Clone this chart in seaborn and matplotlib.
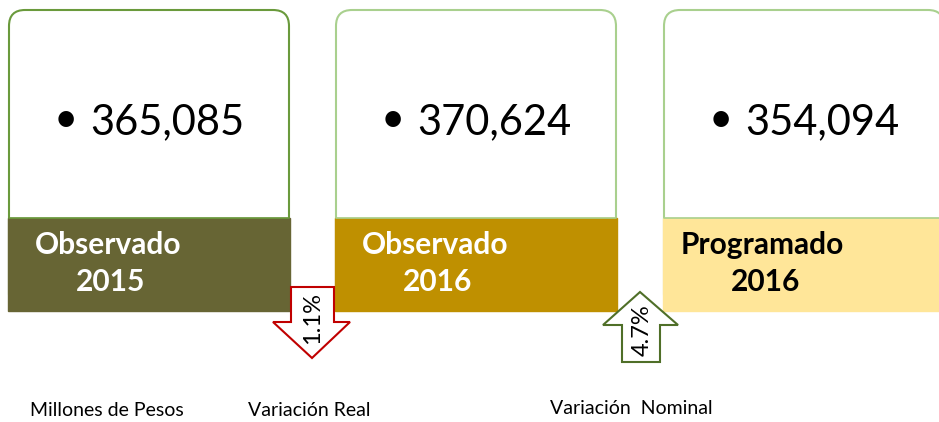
import matplotlib
matplotlib.use("Agg")
import matplotlib.pyplot as plt
from matplotlib.patches import FancyBboxPatch, Rectangle, Polygon
import seaborn as sns

# data
values = ["365,085", "370,624", "354,094"]
label_top = ["Observado", "Observado", "Programado"]
label_year = ["2015", "2016", "2016"]
band_colors = ["#676534", "#bf9000", "#ffe699"]
border_colors = ["#6a9a3c", "#a9d08e", "#a9d08e"]
label_colors = ["white", "white", "black"]
variations = ["1.1%", "4.7%"]
bottom_texts = ["Millones de Pesos", "Variación Real", "Variación  Nominal"]

sns.set_theme(style="white")
plt.rcParams['font.family'] = ['Lato', 'DejaVu Sans']

fig = plt.figure(figsize=(9.39, 4.22), dpi=100)
ax = fig.add_axes([0, 0, 1, 1])
ax.set_xlim(0, 939)
ax.set_ylim(422, 0)
ax.axis("off")

box_x = [9, 336, 664]
box_w = 280
label_x = [26, 26, 17]
year_x = [67, 67, 67]
for i in range(3):
    x0 = box_x[i]
    ax.add_patch(FancyBboxPatch((x0, 10), box_w, 300,
                                boxstyle="round,pad=0,rounding_size=16",
                                facecolor="white", edgecolor=border_colors[i], lw=1.5))
    ax.add_patch(Rectangle((x0 - 0.8, 218), box_w + 1.6, 92.8, facecolor=band_colors[i],
                           edgecolor=band_colors[i], lw=1.0))
    ax.plot([x0, x0 + box_w], [218, 218], color=border_colors[i], lw=1.2)
    ax.text(x0 + 57, 120, "•", fontsize=30, ha="center", va="center", color="black")
    ax.text(x0 + 81, 122, values[i], fontsize=30, ha="left", va="center", color="black")
    ax.text(x0 + label_x[i], 245, label_top[i], fontsize=21.5, fontweight="bold",
            ha="left", va="center", color=label_colors[i])
    ax.text(x0 + year_x[i], 282, label_year[i], fontsize=21.5, fontweight="bold",
            ha="left", va="center", color=label_colors[i])

# down arrow (real variation)
down = [(291, 287), (334, 287), (334, 322), (350, 322), (312, 358), (273, 322), (291, 322)]
ax.add_patch(Polygon(down, closed=True, facecolor="white", edgecolor="#c00000", lw=1.5))
ax.text(313, 318, variations[0], rotation=90, fontsize=17, ha="center", va="center", color="black")

# up arrow (nominal variation)
up = [(640, 292), (678, 325), (660, 325), (660, 362), (622, 362), (622, 325), (603, 325)]
ax.add_patch(Polygon(up, closed=True, facecolor="white", edgecolor="#4f6f28", lw=1.5))
ax.text(642, 330, variations[1], rotation=90, fontsize=17, ha="center", va="center", color="black")

ax.text(30, 411, bottom_texts[0], fontsize=14, ha="left", va="center", color="black")
ax.text(248, 411, bottom_texts[1], fontsize=14, ha="left", va="center", color="black")
ax.text(550, 408, bottom_texts[2], fontsize=14, ha="left", va="center", color="black")

fig.savefig("out.png", dpi=100)
